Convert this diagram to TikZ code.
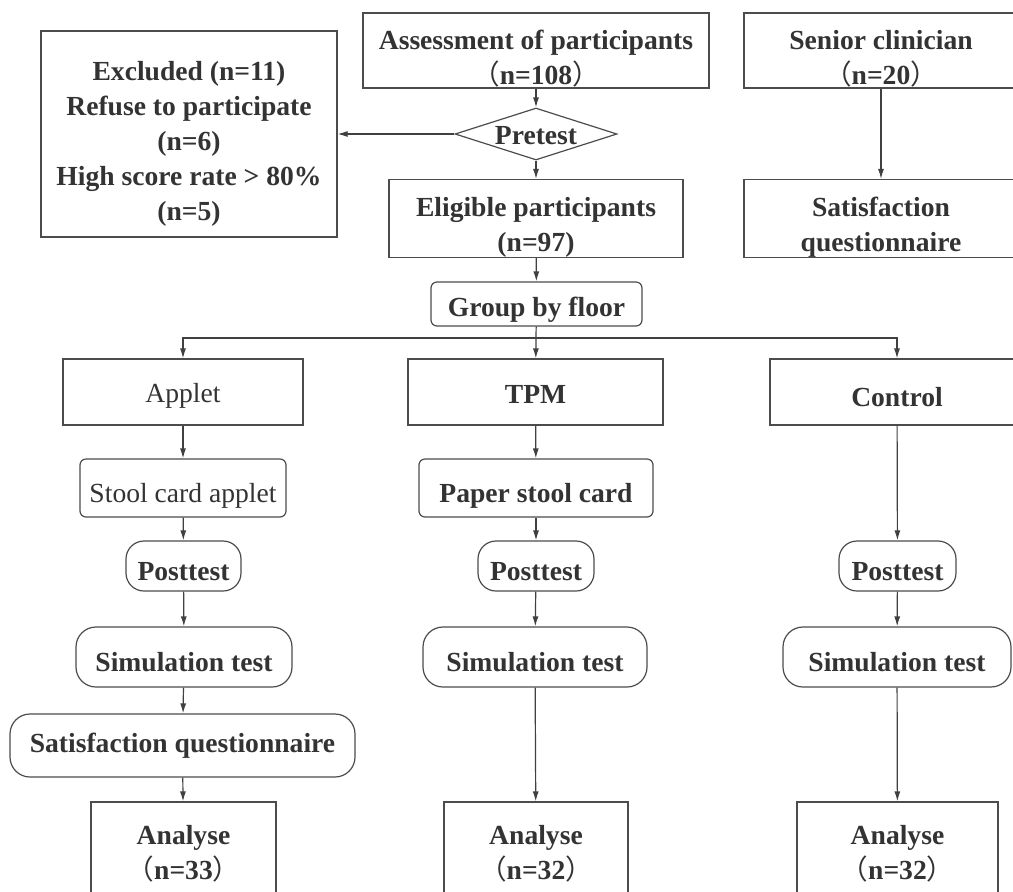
\documentclass[tikz,border=0pt]{standalone}
\usepackage{fontspec}
\setmainfont{Liberation Serif}
\newfontfamily\cjk{Noto Sans CJK SC}
\usetikzlibrary{arrows.meta,shapes.geometric}
\newcommand{\lp}{{\cjk\mdseries （}}
\newcommand{\rp}{{\cjk\mdseries ）}}
\newcommand{\up}[1]{\rule{0pt}{#1}}
\begin{document}
\begin{tikzpicture}[x=0.5pt,y=-0.5pt,
  line width=0.6pt,
  every node/.style={text=black!80, font=\fontsize{13.8}{17.5}\selectfont\bfseries, align=center, inner sep=0pt},
  box/.style={draw=black!70},
  rbox/.style={draw=black!70, rounded corners=3pt},
  pill/.style={draw=black!70, rounded corners=10pt},
  arr/.style={draw=black!75, -{Latex[length=5pt,width=3pt]}},
  ln/.style={draw=black!75}
]
\useasboundingbox (0,0) rectangle (1013,891);

% top row
\node[box, minimum width=148pt, minimum height=103pt] (excl) at (189,134)
  {\up{19.5pt}Excluded (n=11)\\Refuse to participate\\(n=6)\\High score rate > 80\%\\(n=5)};
\node[box, minimum width=173pt, minimum height=37.5pt] (assess) at (536,50.5)
  {\up{17.5pt}Assessment of participants\\\lp n=108\rp};
\node[box, minimum width=137pt, minimum height=37.5pt] (senior) at (881,50.5)
  {\up{17.5pt}Senior clinician\\\lp n=20\rp};
\node[diamond, draw=black!70, minimum width=81pt, minimum height=26pt] (pre) at (536,134) {};
\node (pretxt) at (536,136) {Pretest};
\node[box, minimum width=147pt, minimum height=38.5pt] (elig) at (536,218.5)
  {\up{18.5pt}Eligible participants\\(n=97)};
\node[box, minimum width=137pt, minimum height=38.5pt] (satis) at (881,218.5)
  {\up{18.5pt}Satisfaction\\questionnaire};
\node[rbox, minimum width=105.5pt, minimum height=22pt] (group) at (536.5,304) {\up{15.5pt}Group by floor};

% group row
\node[box, minimum width=120pt, minimum height=33pt, font=\fontsize{13.8}{17.5}\selectfont] (applet) at (183,392) {\up{13.5pt}Applet};
\node[box, minimum width=127.5pt, minimum height=33pt] (tpm) at (535.5,392) {\up{11.5pt}TPM};
\node[box, minimum width=127pt, minimum height=33pt] (control) at (897,392) {\up{14.5pt}Control};

% interventions
\node[rbox, minimum width=103pt, minimum height=29pt, font=\fontsize{13.8}{17.5}\selectfont] (stool) at (183,488) {\up{17.5pt}Stool card applet};
\node[rbox, minimum width=117pt, minimum height=29pt] (paper) at (536,488) {\up{17.5pt}Paper stool card};

% posttest
\node[pill, rounded corners=9pt, minimum width=57.5pt, minimum height=25pt] (post1) at (183.5,566) {\up{14.5pt}Posttest};
\node[pill, rounded corners=9pt, minimum width=58pt, minimum height=25pt] (post2) at (536,566) {\up{14.5pt}Posttest};
\node[pill, rounded corners=9pt, minimum width=58.5pt, minimum height=25pt] (post3) at (897.5,566) {\up{14.5pt}Posttest};

% simulation
\node[pill, minimum width=108pt, minimum height=30pt] (sim1) at (184,657) {\up{14.5pt}Simulation test};
\node[pill, minimum width=112pt, minimum height=30pt] (sim2) at (535,657) {\up{14.5pt}Simulation test};
\node[pill, minimum width=114pt, minimum height=30pt] (sim3) at (897,657) {\up{14.5pt}Simulation test};

\node[pill, minimum width=172.5pt, minimum height=31.5pt] (sq1) at (182.5,745.5) {Satisfaction questionnaire};

% analyse
\node[box, minimum width=92.5pt, minimum height=49pt] (an1) at (183.5,851) {\up{12.5pt}Analyse\\\lp n=33\rp};
\node[box, minimum width=92pt, minimum height=49pt] (an2) at (536,851) {\up{12.5pt}Analyse\\\lp n=32\rp};
\node[box, minimum width=100.5pt, minimum height=49pt] (an3) at (897.5,851) {\up{12.5pt}Analyse\\\lp n=32\rp};

% connectors
\coordinate (split) at (536,338);
\path[arr] (assess) -- (pre);
\path[arr] (pre) -- (elig);
\path[arr] (pre) -- (excl);
\path[arr] (senior.south -| satis) -- (satis);
\path[arr] (elig) -- (group);
\path[ln] (group) -- (split);
\path[arr] (split) -| (applet);
\path[arr] (split) -- (tpm);
\path[arr] (split) -| (control);

\path[arr] (applet) -- (stool);
\path[arr] (stool) -- (post1);
\path[arr] (post1) -- (sim1);
\path[arr] (sim1) -- (sq1);
\path[arr] (sq1) -- (an1);

\path[arr] (tpm) -- (paper);
\path[arr] (paper) -- (post2);
\path[arr] (post2) -- (sim2);
\path[arr] (sim2) -- (an2);

\path[arr] (control) -- (post3);
\path[arr] (post3) -- (sim3);
\path[arr] (sim3) -- (an3);
\end{tikzpicture}
\end{document}
